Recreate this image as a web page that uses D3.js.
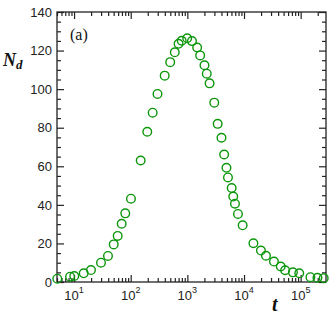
<!DOCTYPE html>
<html>
<head>
<meta charset="utf-8">
<script src="https://cdn.jsdelivr.net/npm/d3@7"></script>
<style>
  body { margin: 0; background: #fff; }
  svg text { font-family: "Liberation Sans", Arial, sans-serif; }
  svg text.serif { font-family: "Liberation Serif", "Times New Roman", serif; }
</style>
</head>
<body>
<svg id="chart"></svg>
<script>
// time values
const times = [5.06, 8.5, 10.1, 14.8, 19.9, 29.9, 39.7, 50.1, 58.9, 69.3, 80.2, 101,
  150, 196, 244, 297, 398, 498, 600, 700, 794, 993, 1206, 1489, 1683, 2005, 2200,
  2466, 2985, 3427, 4000, 4460, 4900, 5210, 6055, 6460, 6920, 7820, 9460, 14660,
  19900, 24400, 33750, 44500, 53200, 73000, 94400, 148600, 197700, 255300];
const counts = [1.7, 2.75, 3.1, 4.5, 6.2, 10.0, 13.5, 19.5, 23.9, 30.2, 35.6, 43.2,
  63.0, 77.9, 87.8, 97.5, 107.0, 114.0, 119.1, 123.5, 125.1, 126.4, 124.9, 121.6,
  117.5, 112.4, 108.0, 103.0, 93.0, 82.0, 74.8, 66.1, 59.2, 54.2, 48.7, 44.3, 40.6,
  35.3, 29.4, 20.1, 16.3, 13.6, 10.6, 8.0, 6.1, 5.0, 4.5, 2.5, 2.2, 2.0];
const yTicks = [0, 20, 40, 60, 80, 100, 120, 140];
const xPowers = [1, 2, 3, 4, 5];

const w = 332, h = 316;
const pLeft = 57, pRight = 326, pTop = 12, pBottom = 282;

const svg = d3.select("#chart").attr("width", w).attr("height", h);

const x = d3.scaleLog().domain([5, 2.8e5]).range([pLeft, pRight]);
const y = d3.scaleLinear().domain([0, 140]).range([pBottom, pTop]);

const majorX = xPowers.map(p => Math.pow(10, p));
let minorX = [];
for (let p = 0; p <= 5; ++p) {
  for (let k = 2; k <= 9; ++k) {
    const v = k * Math.pow(10, p);
    if (v >= 5 && v <= 2.8e5) minorX.push(v);
  }
}
const minorY = d3.range(0, 141, 5).filter(v => v % 20 != 0);

function styleAxis(g) {
  g.select(".domain").remove();
  g.selectAll("line").attr("stroke", "#222").attr("stroke-width", 1.2);
}

// minor ticks
svg.append("g").attr("transform", `translate(0,${pBottom})`)
  .call(d3.axisBottom(x).tickValues(minorX).tickSize(-4).tickFormat("")).call(styleAxis);
svg.append("g").attr("transform", `translate(0,${pTop})`)
  .call(d3.axisTop(x).tickValues(minorX).tickSize(-4).tickFormat("")).call(styleAxis);
svg.append("g").attr("transform", `translate(${pLeft},0)`)
  .call(d3.axisLeft(y).tickValues(minorY).tickSize(-4).tickFormat("")).call(styleAxis);
svg.append("g").attr("transform", `translate(${pRight},0)`)
  .call(d3.axisRight(y).tickValues(minorY).tickSize(-4).tickFormat("")).call(styleAxis);

// major ticks
svg.append("g").attr("transform", `translate(0,${pBottom})`)
  .call(d3.axisBottom(x).tickValues(majorX).tickSize(-7).tickFormat("")).call(styleAxis);
svg.append("g").attr("transform", `translate(0,${pTop})`)
  .call(d3.axisTop(x).tickValues(majorX).tickSize(-7).tickFormat("")).call(styleAxis);
svg.append("g").attr("transform", `translate(${pLeft},0)`)
  .call(d3.axisLeft(y).tickValues(yTicks).tickSize(-7).tickPadding(5)).call(styleAxis)
  .selectAll("text").attr("font-size", 13).attr("fill", "#222")
  .attr("font-family", "Liberation Sans, Arial, sans-serif");
svg.append("g").attr("transform", `translate(${pRight},0)`)
  .call(d3.axisRight(y).tickValues(yTicks).tickSize(-7).tickFormat("")).call(styleAxis);

// power-of-ten labels
xPowers.forEach(p => {
  const t = svg.append("text")
    .attr("x", x(Math.pow(10, p)))
    .attr("y", 300)
    .attr("text-anchor", "middle")
    .attr("font-size", 13)
    .attr("fill", "#222");
  t.append("tspan").text("10");
  t.append("tspan").attr("dy", -7).attr("font-size", 9).text(p);
});

// frame
svg.append("rect")
  .attr("x", pLeft).attr("y", pTop)
  .attr("width", pRight - pLeft).attr("height", pBottom - pTop)
  .attr("fill", "none").attr("stroke", "#222").attr("stroke-width", 1.3);

// points
svg.append("g").selectAll("circle")
  .data(times.map((t, i) => [t, counts[i]]))
  .enter()
  .append("circle")
  .attr("cx", d => x(d[0]))
  .attr("cy", d => y(d[1]))
  .attr("r", 4.3)
  .attr("fill", "none")
  .attr("stroke", "#0c960c")
  .attr("stroke-width", 1.4);

// labels
svg.append("text").attr("class", "serif").attr("x", 70).attr("y", 40)
  .attr("font-size", 16).attr("fill", "#111").text("(a)");

const ny = svg.append("text").attr("class", "serif").attr("x", 3).attr("y", 66)
  .attr("font-size", 18).attr("font-weight", "bold").attr("font-style", "italic")
  .attr("fill", "#111");
ny.append("tspan").text("N");
ny.append("tspan").attr("dy", 3).attr("font-size", 13).text("d");

svg.append("text").attr("class", "serif").attr("x", 272).attr("y", 311)
  .attr("font-size", 20).attr("font-weight", "bold").attr("font-style", "italic")
  .attr("fill", "#111").text("t");
</script>
</body>
</html>
